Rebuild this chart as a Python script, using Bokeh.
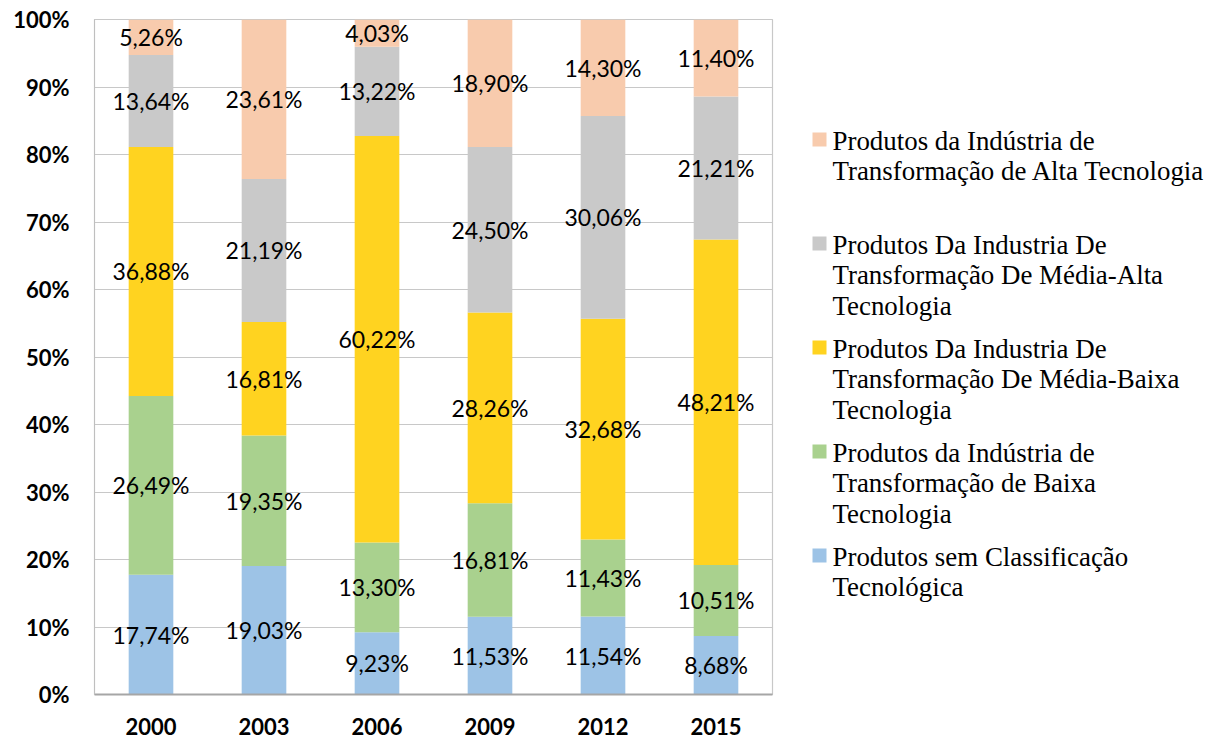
from bokeh.plotting import figure
from bokeh.models import ColumnDataSource, FixedTicker, Range1d, FactorRange
from bokeh.layouts import row
from bokeh.core.properties import value
from bokeh.embed import file_html
from bokeh.resources import INLINE

years = ["2000", "2003", "2006", "2009", "2012", "2015"]
sem_classificacao = [17.74, 19.03, 9.23, 11.53, 11.54, 8.68]
baixa = [26.49, 19.35, 13.30, 16.81, 11.43, 10.51]
media_baixa = [36.88, 16.81, 60.22, 28.26, 32.68, 48.21]
media_alta = [13.64, 21.19, 13.22, 24.50, 30.06, 21.21]
alta = [5.26, 23.61, 4.03, 18.90, 14.30, 11.40]

series_keys = ["sem", "baixa", "mbaixa", "malta", "alta"]
series_values = [sem_classificacao, baixa, media_baixa, media_alta, alta]
series_colors = ["#9DC3E6", "#A9D18E", "#FFD320", "#C9C9C9", "#F8CBAD"]
series_labels = [
    ["Produtos sem Classificação", "Tecnológica"],
    ["Produtos da Indústria de", "Transformação de Baixa", "Tecnologia"],
    ["Produtos Da Industria De", "Transformação De Média-Baixa", "Tecnologia"],
    ["Produtos Da Industria De", "Transformação De Média-Alta", "Tecnologia"],
    ["Produtos da Indústria de", "Transformação de Alta Tecnologia"],
]
y_ticks = [0, 10, 20, 30, 40, 50, 60, 70, 80, 90, 100]
y_tick_labels = [f"{t}%" for t in y_ticks]

data = {"year": years}
for k, v in zip(series_keys, series_values):
    data[k] = v
source = ColumnDataSource(data)

p = figure(x_range=FactorRange(*years), y_range=Range1d(0, 100),
           width=797, height=738, frame_width=678, frame_height=675,
           min_border_left=94, min_border_top=19, min_border_right=25,
           min_border_bottom=44,
           output_backend="svg", toolbar_location=None)
p.vbar_stack(series_keys, x="year", width=0.395, color=series_colors,
             line_color=None, source=source)

# data labels
lx, ly, lt = [], [], []
cum = [0.0] * len(years)
for vals in series_values:
    for i, v in enumerate(vals):
        lx.append(years[i])
        ly.append(cum[i] + v / 2)
        lt.append(f"{v:.2f}%".replace(".", ","))
        cum[i] += v
lsrc = ColumnDataSource(dict(x=lx, y=ly, t=lt))
p.text(x="x", y="y", text="t", source=lsrc, text_align="center",
       text_baseline="middle", text_font=value("Lato"),
       text_font_size="23px", text_color="#000000")

p.yaxis.ticker = FixedTicker(ticks=y_ticks)
p.yaxis.major_label_overrides = {t: l for t, l in zip(y_ticks, y_tick_labels)}
for ax in (p.xaxis[0], p.yaxis[0]):
    ax.major_label_text_font = "Lato"
    ax.major_label_text_font_style = "bold"
    ax.major_label_text_font_size = "22px"
    ax.major_label_text_color = "#000000"
    ax.major_tick_line_color = None
    ax.minor_tick_line_color = None
p.yaxis.axis_line_color = "#BFBFBF"
p.xaxis.axis_line_color = "#A6A6A6"
p.xaxis.axis_line_width = 2
p.yaxis.major_label_standoff = 19
p.xaxis.major_label_standoff = 17
p.xgrid.grid_line_color = None
p.ygrid.grid_line_color = "#C8C8C8"
p.ygrid.grid_line_width = 1.2
p.outline_line_color = "#C8C8C8"
p.outline_line_width = 1.2

# legend figure (coordinates in page pixels; frame aligned with main plot frame)
lg = figure(width=415, height=738, frame_width=415, frame_height=675,
            x_range=Range1d(798, 798 + 415), y_range=Range1d(695, 20),
            min_border_left=0, min_border_right=0, min_border_top=19,
            min_border_bottom=44,
            output_backend="svg", toolbar_location=None)
lg.axis.visible = False
lg.grid.visible = False
lg.outline_line_color = None

sq_y, sq_c = [], []
tx, ty, tt = [], [], []
order = list(range(len(series_keys)))[::-1]
for pos, idx in enumerate(order):
    top = 140 + 104 * pos
    sq_y.append(top)
    sq_c.append(series_colors[idx])
    for j, line in enumerate(series_labels[idx]):
        tx.append(833)
        ty.append(top + 1 + 30.5 * j)
        tt.append(line)
lg.rect(x=[820] * len(sq_y), y=sq_y, width=14, height=14, color=sq_c, line_color=None)
lg.text(x=tx, y=ty, text=tt, text_align="left", text_baseline="middle",
        text_font=value("Liberation Serif"), text_font_size="26.9px", text_color="#000000")

layout = row(p, lg, spacing=0)
open("out.html", "w").write(file_html(layout, INLINE))
